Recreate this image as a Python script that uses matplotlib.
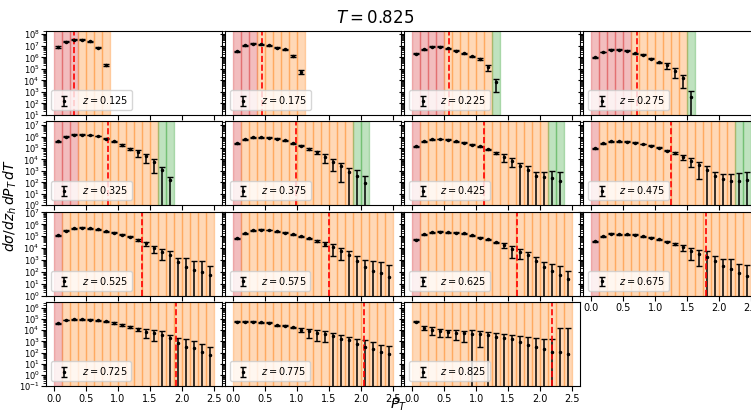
import numpy as np
import matplotlib
matplotlib.use('Agg')
import matplotlib.pyplot as plt
from matplotlib.ticker import LogLocator, NullFormatter

# pT bin edges (GeV)
pt_edges = [0.0, 0.125, 0.25, 0.375, 0.5, 0.625, 0.75, 0.875, 1.0, 1.125, 1.25,
            1.375, 1.5, 1.625, 1.75, 1.875, 2.0, 2.125, 2.25, 2.375, 2.5]

z_vals = [0.125, 0.175, 0.225, 0.275, 0.325, 0.375, 0.425, 0.475,
          0.525, 0.575, 0.625, 0.675, 0.725, 0.775, 0.825]

# red dashed cut position for each z bin
pt_cut = [0.32, 0.45, 0.58, 0.71, 0.85, 0.98, 1.12, 1.25,
          1.37, 1.50, 1.64, 1.79, 1.91, 2.05, 2.18]

# number of bins in each region (red / orange / green)
n_red = [3, 3, 4, 5, 3, 1, 1, 1, 1, 1, 1, 1, 1, 0, 0]
n_orange = [4, 6, 6, 7, 10, 14, 16, 17, 19, 19, 19, 19, 19, 20, 20]
n_green = [0, 0, 1, 1, 2, 2, 2, 2, 0, 0, 0, 0, 0, 0, 0]

xs_0125 = [8.0e6, 2.3e7, 3.4e7, 3.4e7, 2.5e7, 7.0e6, 2.1e5]
er_0125 = [9e5, 2.5e6, 3.5e6, 3.5e6, 2.8e6, 8e5, 4e4]
xs_0175 = [3.5e6, 1.1e7, 1.45e7, 1.35e7, 1.1e7, 7.0e6, 4.9e6, 1.3e6, 5.3e4]
er_0175 = [3.5e5, 1.1e6, 1.4e6, 1.3e6, 1.1e6, 7e5, 5e5, 1.5e5, 2e4]
xs_0225 = [2.0e6, 5.2e6, 8.0e6, 8.0e6, 6.0e6, 3.8e6, 2.2e6, 1.2e6, 6.6e5, 1.4e5, 7.0e3]
er_0225 = [2e5, 5e5, 7e5, 7e5, 5.5e5, 3.5e5, 2.2e5, 1.3e5, 1.3e5, 7e4, 6e3]
xs_0275 = [1.05e6, 2.9e6, 4.6e6, 4.6e6, 3.8e6, 2.3e6, 1.6e6, 7.6e5, 3.6e5,
           2.0e5, 7.0e4, 1.6e4, 3.4e2]
er_0275 = [1e5, 2.5e5, 4e5, 4e5, 3.5e5, 2.2e5, 1.6e5, 8e4, 6e4,
           1.1e5, 5.5e4, 1.4e4, 8e2]
xs_0325 = [3.7e5, 1.0e6, 1.4e6, 1.5e6, 1.35e6, 1.1e6, 6.3e5, 3.7e5, 1.9e5,
           8.5e4, 4.5e4, 1.9e4, 5.7e3, 1.2e3, 1.5e2]
er_0325 = [3e4, 8e4, 1.1e5, 1.2e5, 1.1e5, 9e4, 6e4, 4e4, 3e4,
           2e4, 2.7e4, 1.4e4, 5e3, 1.2e3, 1.6e2]
xs_0375 = [2.5e5, 5.6e5, 8.9e5, 8.9e5, 7.9e5, 6.3e5, 4.6e5, 2.7e5, 1.65e5,
           8.1e4, 4.1e4, 1.8e4, 6.4e3, 2.6e3, 8.0e2, 3.4e2, 95]
er_0375 = [2e4, 4.5e4, 7e4, 7e4, 6e4, 5e4, 4e4, 2.5e4, 2e4,
           1.5e4, 1.2e4, 1.3e4, 5.5e3, 2.5e3, 8.2e2, 9.0e2, 2.5e2]
xs_0425 = [1.35e5, 3.7e5, 5.6e5, 6.0e5, 5.2e5, 4.0e5, 2.8e5, 2.0e5, 1.45e5,
           7.4e4, 3.8e4, 1.7e4, 7.6e3, 2.5e3, 1.1e3, 3.5e2, 3.0e2, 2.5e2, 1.2e2]
er_0425 = [1.1e4, 3e4, 4.5e4, 4.8e4, 4.2e4, 3.2e4, 2.3e4, 1.6e4, 1.3e4,
           1e4, 1e4, 1.1e4, 5.4e3, 2.6e3, 1.4e3, 4.5e2, 5.7e2, 8.0e2, 6.8e2]
xs_0475 = [9.1e4, 2.5e5, 3.7e5, 4.0e5, 3.5e5, 3.0e5, 2.2e5, 1.65e5, 1.05e5, 6.0e4,
           3.5e4, 1.7e4, 7.5e3, 3.0e3, 1.3e3, 3.9e2, 1.8e2, 1.35e2, 1.35e2, 1.55e2]
er_0475 = [8e3, 2e4, 3e4, 3.2e4, 2.8e4, 2.4e4, 1.8e4, 1.4e4, 1e4, 7e3,
           6e3, 8e3, 5.5e3, 2.8e3, 1.35e3, 4.0e2, 3.4e2, 4.5e2, 5.4e2, 5.7e2]
xs_0525 = [1.2e5, 2.9e5, 4.6e5, 5.1e5, 4.8e5, 3.7e5, 2.7e5, 1.95e5, 1.3e5, 9.1e4,
           4.8e4, 2.5e4, 1.0e4, 5.0e3, 2.7e3, 6.3e2, 2.4e2, 1.4e2, 1.0e2, 51]
er_0525 = [1e4, 2.3e4, 3.7e4, 4e4, 3.8e4, 3e4, 2.2e4, 1.6e4, 1.1e4, 8e3,
           6e3, 1.0e4, 6e3, 4e3, 3.2e3, 8.2e2, 1.2e3, 7.3e2, 6.7e2, 2.4e2]
xs_0575 = [6.9e4, 1.8e5, 3.1e5, 3.5e5, 3.3e5, 2.5e5, 1.95e5, 1.4e5, 1.0e5, 6.6e4,
           3.9e4, 2.2e4, 1.2e4, 5.5e3, 2.6e3, 7.6e2, 2.7e2, 1.25e2, 75, 35]
er_0575 = [6e3, 1.5e4, 2.5e4, 2.8e4, 2.6e4, 2e4, 1.6e4, 1.1e4, 8e3, 6e3,
           5e3, 8e3, 1.0e4, 4.5e3, 2.7e3, 1.4e3, 7.3e2, 7.5e2, 6.25e2, 3.35e2]
xs_0625 = [5.0e4, 1.4e5, 2.1e5, 2.4e5, 2.1e5, 1.95e5, 1.75e5, 1.2e5, 7.4e4, 5.4e4,
           3.0e4, 1.8e4, 8.5e3, 5.0e3, 2.5e3, 8.0e2, 2.7e2, 1.25e2, 58, 25]
er_0625 = [4e3, 1.1e4, 1.7e4, 1.9e4, 1.7e4, 1.6e4, 1.4e4, 1e4, 7e3, 6e3,
           5e3, 7e3, 7e3, 3.8e3, 2.6e3, 9e2, 4.1e2, 3.7e2, 2.3e2, 85]
xs_0675 = [3.8e4, 1.0e5, 1.6e5, 1.5e5, 1.4e5, 1.3e5, 1.0e5, 7.4e4, 5.6e4, 3.4e4,
           2.1e4, 1.2e4, 5.5e3, 3.3e3, 1.95e3, 9.0e2, 3.4e2, 1.6e2, 87, 43]
er_0675 = [3e3, 8e3, 1.3e4, 1.2e4, 1.1e4, 1e4, 8e3, 6e3, 5e3, 4e3,
           4e3, 6e3, 4.5e3, 3.0e3, 3.6e3, 1.2e3, 9e2, 9.5e2, 4e2, 3.1e2]
xs_0725 = [4.2e4, 8.3e4, 1.0e5, 1.0e5, 8.9e4, 7.8e4, 6.3e4, 4.5e4, 3.0e4, 1.95e4,
           1.25e4, 7.0e3, 5.8e3, 3.9e3, 1.9e3, 7.0e2, 3.3e2, 2.3e2, 1.2e2, 63]
er_0725 = [6e3, 8e3, 9e3, 9e3, 8e3, 7e3, 6e3, 5e3, 6e3, 5e3,
           4e3, 5e3, 4.7e3, 4.0e3, 1.9e3, 1.3e3, 1.27e3, 9.2e2, 4.55e2, 2.27e2]
xs_0775 = [6.0e4, 5.9e4, 5.6e4, 5.2e4, 4.5e4, 2.9e4, 2.5e4, 1.85e4, 1.15e4, 8.1e3,
           6.0e3, 4.8e3, 3.0e3, 1.7e3, 1.2e3, 6.2e2, 3.2e2, 1.95e2, 1.23e2, 81]
er_0775 = [5e3, 5e3, 5e3, 5e3, 4.5e3, 3e3, 3e3, 3e3, 4e3, 6e3,
           5e3, 4e3, 3.1e3, 1.9e3, 1.25e3, 8.8e2, 1.0e3, 6.75e2, 3.6e2, 3.1e2]
xs_0825 = [6.0e4, 1.6e4, 1.1e4, 8.0e3, 7.0e3, 5.5e3, 5.1e3, 4.8e3, 4.2e3, 3.4e3,
           2.6e3, 2.1e3, 1.5e3, 9.3e2, 4.8e2, 3.2e2, 1.95e2, 1.23e2, 1.23e2, 81]
er_0825 = [5e3, 6e3, 7e3, 5.5e3, 4.5e3, 4.3e3, 4.3e3, 4.9e3, 3.9e3, 3.5e3,
           3.3e3, 2.8e3, 2.2e3, 2.1e3, 1.9e3, 1.8e3, 1.6e3, 1.4e3, 1.6e4, 1.6e4]

xsec = [xs_0125, xs_0175, xs_0225, xs_0275, xs_0325, xs_0375, xs_0425, xs_0475,
        xs_0525, xs_0575, xs_0625, xs_0675, xs_0725, xs_0775, xs_0825]
xerr = [er_0125, er_0175, er_0225, er_0275, er_0325, er_0375, er_0425, er_0475,
        er_0525, er_0575, er_0625, er_0675, er_0725, er_0775, er_0825]

row_ylim = [(1e1, 2e8), (1e0, 2.2e7), (1e0, 1.2e7), (1e-1, 3.5e6)]

edges = np.array(pt_edges)
centers = 0.5 * (edges[:-1] + edges[1:])

fig, axes = plt.subplots(4, 4, sharex=True, sharey='row', figsize=(7.51, 4.11), dpi=100)
fig.subplots_adjust(left=0.061, right=1.011, top=0.925, bottom=0.061, wspace=0.017, hspace=0.075)

for k, z in enumerate(z_vals):
    ax = axes[k // 4, k % 4]
    regions = ['C3'] * n_red[k] + ['C1'] * n_orange[k] + ['C2'] * n_green[k]
    for i, c in enumerate(regions):
        ax.axvspan(edges[i], edges[i + 1], color=c, alpha=0.3)
    n = len(xsec[k])
    ax.errorbar(centers[:n], xsec[k], yerr=xerr[k], fmt='.', color='k', ms=3,
                elinewidth=1.1, capsize=2.5, label=r'$z = %.3f$' % z)
    ax.axvline(pt_cut[k], color='red', ls='--', lw=1.2)
    ax.set_yscale('log')
    ax.legend(loc='lower left', fontsize=7)

for r in range(4):
    axes[r, 0].set_ylim(row_ylim[r])
    for c in range(4):
        if r == 3 and c == 3:
            continue
        ax = axes[r, c]
        ax.yaxis.set_major_locator(LogLocator(base=10, numticks=20))
        ax.yaxis.set_minor_locator(LogLocator(base=10, subs=np.arange(2, 10) * 0.1, numticks=20))
        ax.yaxis.set_minor_formatter(NullFormatter())
        ax.tick_params(axis='y', labelsize=6, pad=1)
        ax.tick_params(axis='x', labelsize=7, pad=2)

axes[3, 3].remove()
axes[2, 3].xaxis.set_tick_params(labelbottom=True)

axes[0, 0].set_xlim(-0.125, 2.625)
axes[0, 0].set_xticks([0.0, 0.5, 1.0, 1.5, 2.0, 2.5])

fig.suptitle(r'$T = 0.825$', y=0.977, fontsize=12)
fig.text(0.53, 0.016, r'$P_T$', ha='center', va='center', fontsize=10)
fig.text(0.014, 0.5, r'$d\sigma/dz_h\,dP_T\,dT$', ha='center', va='center',
         rotation=90, fontsize=10)

fig.savefig('out.png', dpi=100)
